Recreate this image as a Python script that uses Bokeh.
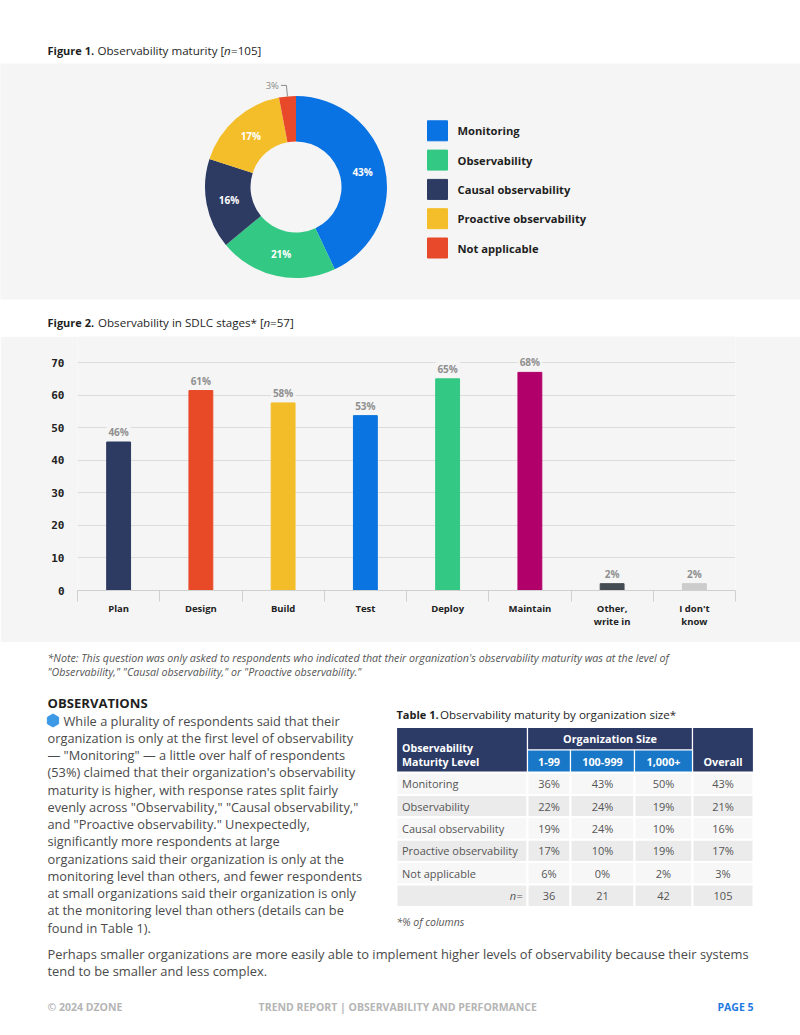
import numpy as np
from bokeh.plotting import figure
from bokeh.layouts import column
from bokeh.models import Range1d, FixedTicker
from bokeh.core.properties import value
from bokeh.embed import file_html
from bokeh.resources import INLINE

# ------------------------------------------------------------------ data
maturity_levels = ["Monitoring", "Observability", "Causal observability",
                   "Proactive observability", "Not applicable"]
maturity_pct = [43, 21, 16, 17, 3]
maturity_colors = ["#0a73e3", "#33c883", "#2d3b62", "#f4be2b", "#e8492a"]

sdlc_stages = ["Plan", "Design", "Build", "Test", "Deploy", "Maintain",
               "Other,\nwrite in", "I don't\nknow"]
sdlc_pct = [45.6, 61.4, 57.6, 53.7, 65.0, 67.0, 2.1, 2.1]
sdlc_labels = ["46%", "61%", "58%", "53%", "65%", "68%", "2%", "2%"]
sdlc_colors = ["#2d3a62", "#e84a27", "#f3bd29", "#0a74e0", "#33c883",
               "#b2006b", "#454b53", "#cccccc"]
y_ticks = [0, 10, 20, 30, 40, 50, 60, 70]

table_rows = ["Monitoring", "Observability", "Causal observability",
              "Proactive observability", "Not applicable"]
org_sizes = ["1-99", "100-999", "1,000+"]
tbl_1_99 = [36, 22, 19, 17, 6]
tbl_100_999 = [43, 24, 24, 10, 0]
tbl_1000 = [50, 19, 10, 19, 2]
tbl_overall = [43, 21, 16, 17, 3]
tbl_n = [36, 21, 42, 105]

# ------------------------------------------------------------------ style
FONT = "Open Sans"
MONO = "DejaVu Sans Mono"
BAND = "#f5f5f5"
DARK = "#1f1f1f"
BODY = "#4a4a4a"
PAGE_W = 800


def page_fig(y_top, y_bot):
    p = figure(width=PAGE_W, height=int(y_bot - y_top),
               x_range=Range1d(0, PAGE_W), y_range=Range1d(y_bot, y_top),
               output_backend="svg", toolbar_location=None, min_border=0,
               x_axis_location=None, y_axis_location=None, frame_align=False)
    p.grid.visible = False
    p.outline_line_color = None
    p.background_fill_color = "white"
    p.border_fill_color = "white"
    return p


def txt(p, x, y, s, size=12.0, color=BODY, style="normal", align="left",
        baseline="middle", font=FONT):
    p.text(x=[x], y=[y], text=[s], text_font=value(font),
           text_font_size=f"{size}px", text_color=color,
           text_font_style=style, text_align=align, text_baseline=baseline)


# ================================================================ figure A
pa = page_fig(0, 336)
pa.quad(left=[0], right=[PAGE_W], top=[63.5], bottom=[298.5], color=BAND)

txt(pa, 47, 50, "Figure 1.", 11, DARK, "bold")
txt(pa, 97, 50, "Observability maturity [", 11.6, DARK)
txt(pa, 223.5, 50, "n", 11.6, DARK, "italic")
txt(pa, 230.5, 50, "=105]", 11.6, DARK)

CX, CY, R_IN, R_OUT = 295.5, 186.5, 45.5, 91.0
frac = np.array(maturity_pct, dtype=float) / sum(maturity_pct)
edges = np.concatenate([[0.0], np.cumsum(frac)])
start = np.pi / 2 - 2 * np.pi * edges[:-1]
end = np.pi / 2 - 2 * np.pi * edges[1:]
pa.annular_wedge(x=CX, y=CY, inner_radius=R_IN, outer_radius=R_OUT,
                 start_angle=start, end_angle=end, direction="clock",
                 color=maturity_colors, line_color=None)

mid = np.pi / 2 - 2 * np.pi * (edges[:-1] + frac / 2)
R_LAB = (R_IN + R_OUT) / 2
inside = [i for i, v in enumerate(maturity_pct) if v >= 5]
outside = [i for i, v in enumerate(maturity_pct) if v < 5]
pa.text(x=[CX + R_LAB * np.cos(mid[i]) for i in inside],
        y=[CY - R_LAB * np.sin(mid[i]) for i in inside],
        text=[f"{maturity_pct[i]}%" for i in inside],
        text_font=value(FONT), text_font_size="10px", text_font_style="bold",
        text_color="white", text_align="center", text_baseline="middle")
for i in outside:
    ex = CX + R_OUT * np.cos(mid[i])
    ey = CY - R_OUT * np.sin(mid[i])
    pa.line(x=[ex, ex - 1, ex - 6.5], y=[ey, ey - 11, ey - 11],
            line_color="#8a8a8a", line_width=1)
    txt(pa, ex - 8.5, ey - 11, f"{maturity_pct[i]}%", 9.5, "#8a8a8a",
        "normal", "right")

leg_y = [130.3 + 29.3 * k for k in range(len(maturity_levels))]
pa.rect(x=[437] * len(leg_y), y=leg_y, width=20, height=20,
        color=maturity_colors)
pa.text(x=[457] * len(leg_y), y=leg_y, text=maturity_levels,
        text_font=value(FONT), text_font_size="11.2px",
        text_font_style="bold", text_color=DARK, text_align="left",
        text_baseline="middle")

txt(pa, 47, 322, "Figure 2.", 11, DARK, "bold")
txt(pa, 97.5, 322, "Observability in SDLC stages* [", 11.6, DARK)
txt(pa, 263, 322, "n", 11.6, DARK, "italic")
txt(pa, 269.5, 322, "=57]", 11.6, DARK)

# ================================================================ figure B
n_st = len(sdlc_stages)
centers = [i + 0.5 for i in range(n_st)]
pb = figure(width=PAGE_W, height=306, x_range=Range1d(0, n_st),
            y_range=Range1d(0, 78), output_backend="svg",
            toolbar_location=None, min_border_left=77, min_border_right=65,
            min_border_top=0, min_border_bottom=52, frame_align=False)
pb.background_fill_color = BAND
pb.border_fill_color = BAND
pb.outline_line_color = None
pb.xgrid.visible = False
pb.ygrid.ticker = FixedTicker(ticks=y_ticks)
pb.ygrid.grid_line_color = "#dcdcdc"

pb.vbar(x=centers, top=sdlc_pct, width=0.29, color=sdlc_colors)
pb.text(x=centers, y=sdlc_pct, text=sdlc_labels, y_offset=-10,
        text_font=value(FONT), text_font_size="10px", text_font_style="bold",
        text_color="#909090", text_align="center", text_baseline="middle",
        background_fill_color=BAND, padding=2)

yax = pb.yaxis[0]
yax.ticker = FixedTicker(ticks=y_ticks)
yax.axis_line_color = None
yax.major_tick_line_color = None
yax.minor_tick_line_color = None
yax.major_label_standoff = 7
yax.major_label_text_font = MONO
yax.major_label_text_font_style = "bold"
yax.major_label_text_font_size = "11px"
yax.major_label_text_color = "#222222"

xax = pb.xaxis[0]
xax.ticker = FixedTicker(ticks=centers, minor_ticks=list(range(n_st + 1)))
xax.major_label_overrides = {c: s for c, s in zip(centers, sdlc_stages)}
xax.axis_line_color = "#cfcfcf"
xax.major_tick_line_color = None
xax.minor_tick_line_color = "#cfcfcf"
xax.minor_tick_in = 0
xax.minor_tick_out = 11
xax.major_label_standoff = 0
xax.major_label_text_font = FONT
xax.major_label_text_font_style = "bold"
xax.major_label_text_font_size = "9.5px"
xax.major_label_text_color = "#222222"
xax.major_label_text_line_height = 1.05

# ================================================================ figure C
pc = page_fig(642, 1035)

txt(pc, 47, 657.5, "*Note: This question was only asked to respondents who "
    "indicated that their organization's observability maturity was at the "
    "level of", 10.7, "#555555", "italic")
txt(pc, 47, 671, "\"Observability,\" \"Causal observability,\" or "
    "\"Proactive observability.\"", 10.7, "#555555", "italic")

txt(pc, 47, 702, "OBSERVATIONS", 13.1, DARK, "bold")
pc.scatter(x=[52.5], y=[720], marker="hex", size=13, angle=np.pi / 6,
           color="#3b99e6")
body = [
    "While a plurality of respondents said that their",
    "organization is only at the first level of observability",
    "\u2014 \"Monitoring\" \u2014 a little over half of respondents",
    "(53%) claimed that their organization's observability",
    "maturity is higher, with response rates split fairly",
    "evenly across \"Observability,\" \"Causal observability,\"",
    "and \"Proactive observability.\" Unexpectedly,",
    "significantly more respondents at large",
    "organizations said their organization is only at the",
    "monitoring level than others, and fewer respondents",
    "at small organizations said their organization is only",
    "at the monitoring level than others (details can be",
    "found in Table 1).",
]
for k, line in enumerate(body):
    txt(pc, 63 if k == 0 else 47, 720 + 17.27 * k, line, 12.8, BODY)

# ---- table
txt(pc, 396, 714, "Table 1.", 11, DARK, "bold")
txt(pc, 439.5, 714, "Observability maturity by organization size*", 11.6,
    DARK)

NAVY, TBLUE = "#2c3a66", "#1877c7"
col_edges = [396, 527, 570, 634, 692, 753]
H_TOP, H_MID, H_BOT = 727, 749.5, 772
ROW_H = 22.4

pc.quad(left=[col_edges[0], col_edges[1], col_edges[4]],
        right=[col_edges[1], col_edges[4], col_edges[5]],
        top=[H_TOP, H_TOP, H_TOP], bottom=[H_BOT, H_MID, H_BOT],
        fill_color=NAVY, line_color="white", line_width=1.2)
pc.quad(left=col_edges[1:4], right=col_edges[2:5], top=[H_MID] * 3,
        bottom=[H_BOT] * 3, fill_color=TBLUE, line_color="white",
        line_width=1.2)
txt(pc, 401.5, 747.5, "Observability", 10.6, "white", "bold")
txt(pc, 401.5, 761, "Maturity Level", 10.6, "white", "bold")
txt(pc, (col_edges[1] + col_edges[4]) / 2, 738.3, "Organization Size", 10.8,
    "white", "bold", "center")
ccent = [(col_edges[c] + col_edges[c + 1]) / 2 for c in range(5)]
pc.text(x=ccent[1:4], y=[761] * 3, text=org_sizes, text_font=value(FONT),
        text_font_size="10.8px", text_font_style="bold", text_color="white",
        text_align="center", text_baseline="middle")
txt(pc, ccent[4], 761, "Overall", 10.8, "white", "bold", "center")

n_rows = len(table_rows) + 1
cl, cr, ct, cb, cf = [], [], [], [], []
for r in range(n_rows):
    for c in range(5):
        cl.append(col_edges[c]); cr.append(col_edges[c + 1])
        ct.append(H_BOT + r * ROW_H); cb.append(H_BOT + (r + 1) * ROW_H)
        cf.append("#f7f7f7" if r % 2 == 0 else "#ebebeb")
pc.quad(left=cl, right=cr, top=ct, bottom=cb, fill_color=cf,
        line_color="white", line_width=2)

row_y = [H_BOT + (r + 0.5) * ROW_H for r in range(n_rows)]
pc.text(x=[401.5] * len(table_rows), y=row_y[:-1], text=table_rows,
        text_font=value(FONT), text_font_size="11px", text_color="#555555",
        text_align="left", text_baseline="middle")
vx, vy, vt = [], [], []
for c, col in enumerate([tbl_1_99, tbl_100_999, tbl_1000, tbl_overall]):
    for r, v in enumerate(col):
        vx.append(ccent[c + 1]); vy.append(row_y[r]); vt.append(f"{v}%")
    vx.append(ccent[c + 1]); vy.append(row_y[-1]); vt.append(str(tbl_n[c]))
pc.text(x=vx, y=vy, text=vt, text_font=value(FONT), text_font_size="11px",
        text_color="#555555", text_align="center", text_baseline="middle")
txt(pc, 522, row_y[-1], "n=", 11, "#555555", "italic", "right")
txt(pc, 396, 921, "*% of columns", 10.5, "#555555", "italic")

txt(pc, 47, 953.3, "Perhaps smaller organizations are more easily able to "
    "implement higher levels of observability because their systems",
    12.9, BODY)
txt(pc, 47, 970.7, "tend to be smaller and less complex.", 12.9, BODY)

txt(pc, 47, 1006.5, "\u00a9 2024 DZONE", 10.5, "#b5b5b5", "bold")
txt(pc, 400, 1006.5, "TREND REPORT  |  OBSERVABILITY AND PERFORMANCE", 10.5,
    "#b5b5b5", "bold", "center")
txt(pc, 753, 1006.5, "PAGE 5", 10.5, "#1d7ae0", "bold", "right")

layout = column(pa, pb, pc, spacing=0)
open("out.html", "w").write(file_html(layout, INLINE))
